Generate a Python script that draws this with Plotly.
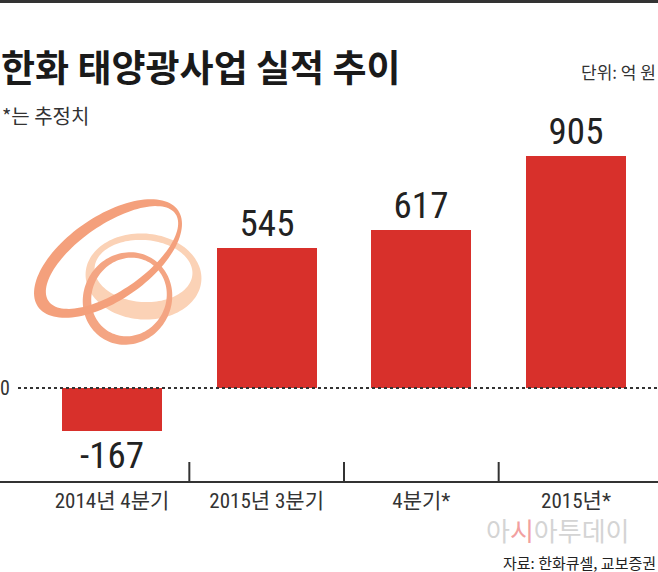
import numpy as np
import plotly.graph_objects as go

# ---- data ----
categories = ["2014년 4분기", "2015년 3분기", "4분기*", "2015년*"]
values = [-167, 545, 617, 905]
value_labels = ["-167", "545", "617", "905"]
title = "한화 태양광사업 실적 추이"
unit = "단위: 억 원"
note = "*는 추정치"
source = "자료: 한화큐셀, 교보증권"

W, H = 658, 572
M_T, M_B = 100, 91            # plot area: y 100 .. 481 px
PH = H - M_T - M_B
NARROW = "Liberation Sans Narrow, Arial Narrow, Roboto Condensed, Noto Sans CJK KR, sans-serif"
KR = "Noto Sans CJK KR, sans-serif"

def px(x):
    return x / W

def py(y):
    return (H - M_B - y) / PH

def ring(cx, cy, a, b, th, icx, icy, ia, ib, ith, n=120):
    t = np.linspace(0, 2 * np.pi, n, endpoint=False)
    def pts(cx, cy, a, b, th, t):
        r = np.deg2rad(th)
        xs = cx + a * np.cos(t) * np.cos(r) - b * np.sin(t) * np.sin(r)
        ys = cy - (a * np.cos(t) * np.sin(r) + b * np.sin(t) * np.cos(r))
        return xs, ys
    ox, oy = pts(cx, cy, a, b, th, t)
    ix, iy = pts(icx, icy, ia, ib, ith, t[::-1])
    d = "M " + " L ".join(f"{px(x):.5f},{py(y):.5f}" for x, y in zip(ox, oy)) + " Z "
    d += "M " + " L ".join(f"{px(x):.5f},{py(y):.5f}" for x, y in zip(ix, iy)) + " Z"
    return d

x_pos = list(range(len(categories)))

fig = go.Figure()
fig.add_trace(go.Bar(
    x=x_pos, y=values, width=0.647,
    marker=dict(color="#D8302B", line=dict(width=0)),
    text=value_labels, textposition="outside", constraintext="none",
    textfont=dict(family=NARROW, size=37, color="#222222"),
    cliponaxis=False, hoverinfo="skip",
))

shapes = []
# logo rings
shapes.append(dict(type="path", xref="paper", yref="paper", layer="below",
                   path=ring(143.5, 276.5, 58, 43, -4, 143.5, 271, 49, 31, -4),
                   fillcolor="#FBD2B6", line=dict(width=0)))
shapes.append(dict(type="path", xref="paper", yref="paper", layer="below",
                   path=ring(127.5, 298.5, 47, 44, 60, 129, 297, 40, 37, 60),
                   fillcolor="#F4A583", line=dict(width=0)))
shapes.append(dict(type="path", xref="paper", yref="paper", layer="below",
                   path=ring(108, 258.5, 85, 42, 34.5, 112, 257.5, 77, 33, 34.5),
                   fillcolor="#F4A07C", line=dict(width=0)))
# top border
shapes.append(dict(type="rect", xref="paper", yref="paper", x0=0, x1=1,
                   y0=py(3), y1=py(0), fillcolor="#333333", line=dict(width=0)))
# dotted zero line
shapes.append(dict(type="line", xref="paper", yref="y", x0=px(18), x1=1, y0=0, y1=0,
                   line=dict(color="#333333", width=2, dash="dot")))
# dividers between categories
for xv in [0.5, 1.5, 2.5]:
    shapes.append(dict(type="line", xref="x", yref="paper", x0=xv, x1=xv,
                       y0=0, y1=19 / PH, line=dict(color="#333333", width=2)))

annotations = [
    dict(text=f"<b>{title}</b>", x=px(-1), y=py(66), xref="paper", yref="paper",
         xanchor="left", yanchor="middle", showarrow=False,
         font=dict(family=KR, size=37, color="#1a1a1a", weight=900)),
    dict(text=unit, x=1, y=py(71), xref="paper", yref="paper",
         xanchor="right", yanchor="middle", showarrow=False,
         font=dict(family=KR, size=17, color="#333333")),
    dict(text=note, x=0, y=py(115), xref="paper", yref="paper",
         xanchor="left", yanchor="middle", showarrow=False,
         font=dict(family=KR, size=20, color="#333333")),
    dict(text="0", x=px(-2), y=0, xref="paper", yref="y",
         xanchor="left", yanchor="middle", showarrow=False,
         font=dict(family=NARROW, size=20, color="#333333")),
    dict(text="아<span style='color:#F2A0A0'>시</span>아투데이", x=px(632), y=py(529),
         xref="paper", yref="paper", xanchor="right", yanchor="middle", showarrow=False,
         font=dict(family=KR, size=26, color="#D4D4D4")),
    dict(text=source, x=1, y=py(562), xref="paper", yref="paper",
         xanchor="right", yanchor="middle", showarrow=False,
         font=dict(family=KR, size=15, color="#222222")),
]

k = 0.256  # px per unit
fig.update_layout(
    width=W, height=H,
    margin=dict(l=0, r=0, t=M_T, b=M_B, pad=0),
    paper_bgcolor="white", plot_bgcolor="white",
    showlegend=False,
    bargap=0,
    xaxis=dict(range=[-0.724, 3.530], tickvals=x_pos, ticktext=categories,
               showgrid=False, zeroline=False, showline=True, linecolor="#333333",
               linewidth=2, ticks="", fixedrange=True,
               tickfont=dict(family=NARROW, size=21, color="#333333")),
    yaxis=dict(range=[-93 / k, 288 / k], visible=False, showgrid=False,
               zeroline=False, fixedrange=True),
    shapes=shapes,
    annotations=annotations,
)

fig.write_html("out.html")
